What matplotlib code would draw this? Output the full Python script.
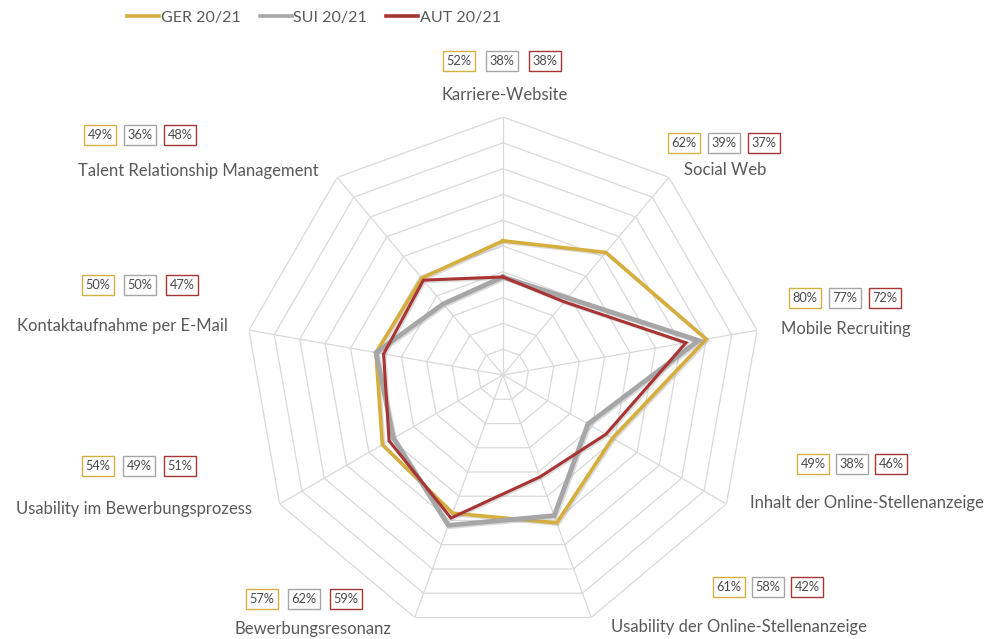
import numpy as np
import matplotlib.pyplot as plt
import matplotlib.patheffects as pe

plt.rcParams['font.family'] = ['Lato', 'DejaVu Sans']

# Kategorien im Uhrzeigersinn, beginnend oben
kategorien = [
    "Karriere-Website",
    "Social Web",
    "Mobile Recruiting",
    "Inhalt der Online-Stellenanzeige",
    "Usability der Online-Stellenanzeige",
    "Bewerbungsresonanz",
    "Usability im Bewerbungsprozess",
    "Kontaktaufnahme per E-Mail",
    "Talent Relationship Management",
]
ger = [52, 62, 80, 49, 61, 57, 54, 50, 49]
sui = [38, 39, 77, 38, 58, 62, 49, 50, 36]
aut = [38, 37, 72, 46, 42, 59, 51, 47, 48]
serien = ["GER 20/21", "SUI 20/21", "AUT 20/21"]
farben = ["#D6AE3E", "#A6A6A6", "#A83434"]
breiten = [2.6, 3.4, 2.2]

W, H = 988, 639

# Position der Beschriftungen (Pixel): Text, erste Box, Abstand der Boxen
label_pos = [(505, 95), (725, 170), (846, 329), (867, 503), (739, 627),
             (313, 629), (134, 509), (122, 326), (198, 171)]
box_pos = [(459, 61), (684, 143), (805, 298), (813, 464), (729, 587),
           (262, 599), (98, 466), (98, 285), (100, 135)]
box_step = [43, 40, 40, 39, 39, 42, 41, 42, 40]

fig = plt.figure(figsize=(W / 100, H / 100), dpi=100)

# Radar-Achse: Zentrum (503, 375), Radius 258 px
cx, cy, r = 503, 375, 258
ax = fig.add_axes([(cx - r) / W, (H - cy - r) / H, 2 * r / W, 2 * r / H],
                  projection="polar")
ax.set_theta_zero_location("N")
ax.set_theta_direction(-1)
ax.set_ylim(0, 100)
ax.grid(False)
ax.spines["polar"].set_visible(False)
ax.set_xticks([])
ax.set_yticks([])
ax.patch.set_alpha(0)

n = len(kategorien)
winkel = np.linspace(0, 2 * np.pi, n, endpoint=False)
winkel_c = np.append(winkel, winkel[0])

# Netz aus Neunecken
for ring in range(10, 101, 10):
    ax.plot(winkel_c, [ring] * (n + 1), color="#D9D9D9", lw=0.9, zorder=1)
for w in winkel:
    ax.plot([w, w], [0, 100], color="#D9D9D9", lw=0.9, zorder=1)

schatten = [pe.SimpleLineShadow(offset=(1, -1), shadow_color="0.6", alpha=0.35),
            pe.Normal()]
for werte, name, farbe, lw in zip([ger, sui, aut], serien, farben, breiten):
    ax.plot(winkel_c, werte + werte[:1], color=farbe, lw=lw, label=name,
            solid_joinstyle="miter", zorder=3, path_effects=schatten)

# Beschriftungen und Werte-Boxen
for i, name in enumerate(kategorien):
    lx, ly = label_pos[i]
    fig.text(lx / W, 1 - ly / H, name, ha="center", va="center",
             fontsize=12, color="#595959")
    bx, by = box_pos[i]
    for j, werte in enumerate([ger, sui, aut]):
        fig.text((bx + j * box_step[i]) / W, 1 - by / H, f"{werte[i]}%",
                 ha="center", va="center", fontsize=9.2, color="#4A4A4A",
                 bbox=dict(boxstyle="square,pad=0.28", fc="white",
                           ec=farben[j], lw=1.0))

leg = fig.legend(loc="center", bbox_to_anchor=(314 / W, 1 - 18 / H), ncol=3,
                 frameon=False, fontsize=11.5, handlelength=2.0,
                 handletextpad=0.1, columnspacing=1.2, labelcolor="#595959")
for linie in leg.get_lines():
    linie.set_linewidth(2.6)
    linie.set_path_effects([])

fig.savefig("out.png", dpi=100)
